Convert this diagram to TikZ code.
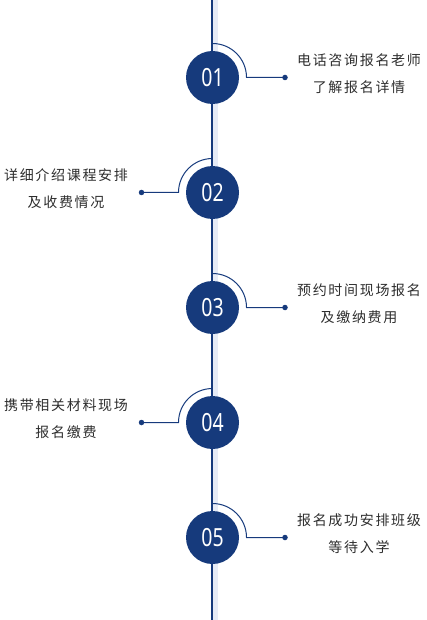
\documentclass[tikz,border=0pt]{standalone}
\usepackage{fontspec}
\usetikzlibrary{calc}
\newfontfamily\cjk[LetterSpace=12]{Noto Sans CJK SC}
\newfontfamily\numfont[FakeStretch=0.78]{Noto Sans}
\definecolor{navy}{RGB}{22,58,124}
\definecolor{band}{RGB}{230,235,246}
\definecolor{txt}{RGB}{45,45,45}
\tikzset{
  numc/.style={circle,fill=navy,minimum size=53pt,inner sep=0pt,text=white,font=\numfont\fontsize{25}{25}\selectfont},
  dotc/.style={circle,fill=navy,minimum size=5.5pt,inner sep=0pt},
  conn/.style={draw=navy,line width=1pt},
  lbl/.style={align=center,text=txt,font=\cjk\fontsize{14}{27}\selectfont,inner sep=0pt},
}
\begin{document}
\begin{tikzpicture}[x=1pt,y=-1pt]
\useasboundingbox (0,0) rectangle (427,620);
\fill[band] (213,0) rectangle (218,620);
\coordinate (top) at (212,0);
\coordinate (bot) at (212,620);
\draw[navy,line width=2pt] (top) -- (bot);
\foreach \n/\y/\s/\la/\lb in {
  01/77.5/1/电话咨询报名老师/了解报名详情,
  02/192.5/-1/详细介绍课程安排/及收费情况,
  03/307.5/1/预约时间现场报名/及缴纳费用,
  04/422.5/-1/携带相关材料现场/报名缴费,
  05/537.5/1/报名成功安排班级/等待入学}{
  \node[numc] (c\n) at (212.5,\y) {\n};
  \ifnum\s=1
    \node[dotc] (d\n) at (285,\y) {};
    \node[lbl] (t\n) at (359,\y-3.5) {\la\\\lb};
    \draw[conn] ($(c\n.center)+(0,-34)$) arc[start angle=-90,end angle=0,radius=34] -- (d\n.center);
  \else
    \node[dotc] (d\n) at (141.5,\y) {};
    \node[lbl] (t\n) at (66,\y-3.5) {\la\\\lb};
    \draw[conn] ($(c\n.center)+(0,-34)$) arc[start angle=-90,end angle=-180,radius=34] -- (d\n.center);
  \fi
}
\end{tikzpicture}
\end{document}
